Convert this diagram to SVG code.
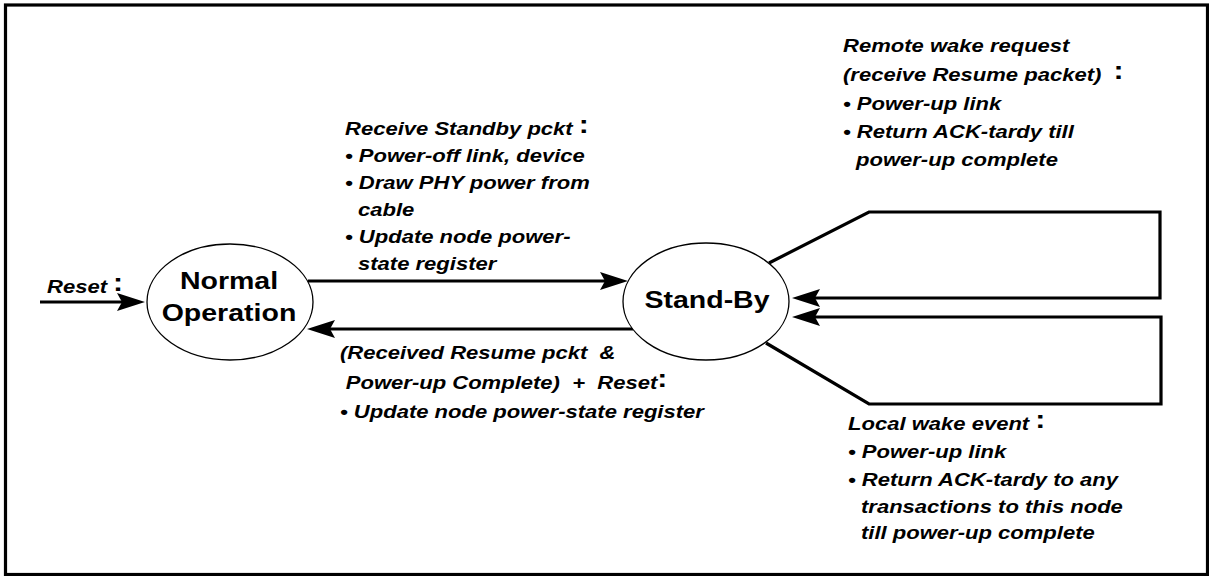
<svg xmlns="http://www.w3.org/2000/svg" width="1209" height="576" viewBox="0 0 1209 576">
<style>
.lbl{font-family:"Liberation Sans",Arial,sans-serif;font-weight:bold;font-style:italic;font-size:19px;fill:#000;white-space:pre}
.col{font-style:normal;font-size:26px}
.st{font-family:"Liberation Sans",Arial,sans-serif;font-weight:bold;font-size:23px;fill:#000;text-anchor:middle}
.node{fill:#fff;stroke:#000;stroke-width:1.3}
.conn{fill:none;stroke:#000;stroke-width:3.2;stroke-linejoin:miter}
</style>
<defs>
<marker id="ah" markerUnits="userSpaceOnUse" markerWidth="30" markerHeight="20" refX="16" refY="9" orient="auto">
<path d="M0,0 L28,9 L0,18 L5,9 Z" fill="#000"/>
</marker>
</defs>
<rect x="0" y="0" width="1209" height="576" fill="#fff"/>
<rect x="5.5" y="5" width="1202" height="569.5" fill="none" stroke="#000" stroke-width="3.2"/>

<g id="connectors">
<path class="conn" d="M40,302 L133,302" marker-end="url(#ah)"/>
<path class="conn" d="M308,281 L616,281" marker-end="url(#ah)"/>
<path class="conn" d="M633,329 L319,329" marker-end="url(#ah)"/>
<path class="conn" d="M769,263 L869,212 L1160,212 L1160,298 L804,298" marker-end="url(#ah)"/>
<path class="conn" d="M766,343 L869,404 L1161,404 L1161,317 L804,317" marker-end="url(#ah)"/>
</g>

<g id="normal-operation">
<ellipse class="node" cx="230" cy="302" rx="83" ry="58"/>
<g transform="translate(229 0) scale(1.24 1)">
<text class="st" x="0" y="289">Normal</text>
<text class="st" x="0" y="321">Operation</text>
</g>
</g>

<g id="stand-by">
<ellipse class="node" cx="706" cy="301.5" rx="83" ry="58.5"/>
<g transform="translate(707 0) scale(1.24 1)">
<text class="st" x="0" y="308">Stand-By</text>
</g>
</g>

<g id="label-reset" transform="translate(47 0) scale(1.16 1)">
<text class="lbl"><tspan x="0" y="293">Reset <tspan class="col" dy="-2">:</tspan></tspan></text>
</g>

<g id="label-standby" transform="translate(345 0) scale(1.16 1)">
<text class="lbl">
<tspan x="0" y="135">Receive Standby pckt <tspan class="col" dy="-2">:</tspan></tspan>
<tspan x="0" y="162">• Power-off link, device</tspan>
<tspan x="0" y="189">• Draw PHY power from</tspan>
<tspan x="11.2" y="216">cable</tspan>
<tspan x="0" y="243">• Update node power-</tspan>
<tspan x="11.2" y="270">state register</tspan>
</text>
</g>

<g id="label-resume" transform="translate(340 0) scale(1.16 1)">
<text class="lbl">
<tspan x="0" y="359">(Received Resume pckt  &amp;</tspan>
<tspan x="5" y="389">Power-up Complete)  +  Reset<tspan class="col" dy="-2">:</tspan></tspan>
<tspan x="0" y="418">• Update node power-state register</tspan>
</text>
</g>

<g id="label-remote" transform="translate(843 0) scale(1.16 1)">
<text class="lbl">
<tspan x="0" y="52">Remote wake request</tspan>
<tspan x="0" y="81">(receive Resume packet)  <tspan class="col" dy="-2">:</tspan></tspan>
<tspan x="0" y="110">• Power-up link</tspan>
<tspan x="0" y="138">• Return ACK-tardy till</tspan>
<tspan x="11.2" y="166">power-up complete</tspan>
</text>
</g>

<g id="label-local" transform="translate(848 0) scale(1.16 1)">
<text class="lbl">
<tspan x="0" y="430">Local wake event <tspan class="col" dy="-2">:</tspan></tspan>
<tspan x="0" y="458">• Power-up link</tspan>
<tspan x="0" y="486">• Return ACK-tardy to any</tspan>
<tspan x="11.2" y="513">transactions to this node</tspan>
<tspan x="11.2" y="539">till power-up complete</tspan>
</text>
</g>
</svg>
